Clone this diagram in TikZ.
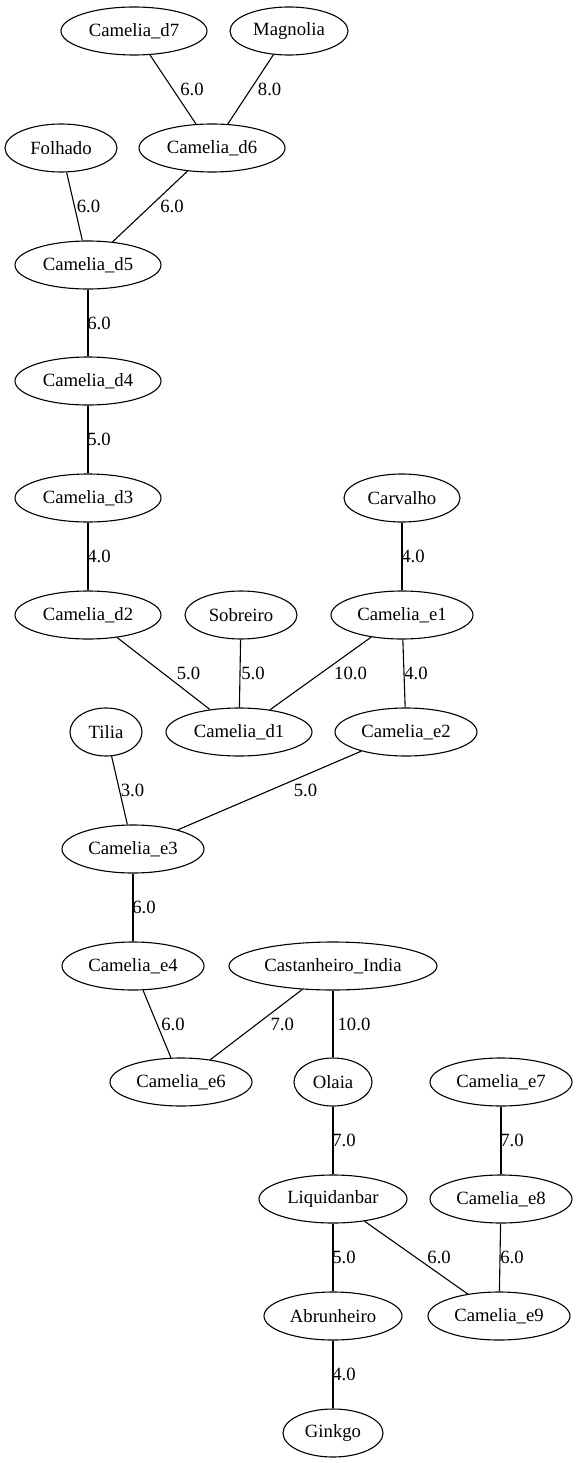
\documentclass[tikz,border=0pt]{standalone}
\usepackage{fontspec}
\setmainfont{Liberation Serif}
\usetikzlibrary{shapes.geometric}
\tikzset{
  tree/.style={draw,ellipse,line width=1.1pt,minimum height=48pt,inner sep=0pt,
    font=\fontsize{18.7}{22}\selectfont},
  lbl/.style={inner sep=0pt,font=\fontsize{18.7}{22}\selectfont},
  edge/.style={line width=1.1pt}
}
\begin{document}
\begin{tikzpicture}[x=1pt,y=-1pt]
    \useasboundingbox (0,0) rectangle (579,1463);
    % rank 0 and 1
    \node[tree,minimum width=146pt] (cd7) at (134,31) {Camelia\_d7};
    \node[tree,minimum width=118pt] (mag) at (289,31) {Magnolia};
    \node[tree,minimum width=112pt] (fol) at (61,148) {Folhado};
    \node[tree,minimum width=146pt] (cd6) at (212,148) {Camelia\_d6};
    % left column
    \node[tree,minimum width=146pt] (cd5) at (88,265) {Camelia\_d5};
    \node[tree,minimum width=146pt] (cd4) at (88,381) {Camelia\_d4};
    \node[tree,minimum width=146pt] (cd3) at (88,498) {Camelia\_d3};
    \node[tree,minimum width=116pt] (car) at (402,498) {Carvalho};
    \node[tree,minimum width=146pt] (cd2) at (88,615) {Camelia\_d2};
    \node[tree,minimum width=112pt] (sob) at (241,615) {Sobreiro};
    \node[tree,minimum width=142pt] (ce1) at (402,615) {Camelia\_e1};
    \node[tree,minimum width=72pt] (til) at (106,732) {Tilia};
    \node[tree,minimum width=146pt] (cd1) at (239,732) {Camelia\_d1};
    \node[tree,minimum width=142pt] (ce2) at (406,732) {Camelia\_e2};
    \node[tree,minimum width=142pt] (ce3) at (133,849) {Camelia\_e3};
    \node[tree,minimum width=142pt] (ce4) at (133,966) {Camelia\_e4};
    \node[tree,minimum width=208pt] (cas) at (333,966) {Castanheiro\_India};
    % lower part
    \node[tree,minimum width=142pt] (ce6) at (181,1082) {Camelia\_e6};
    \node[tree,minimum width=78pt] (ola) at (333,1082) {Olaia};
    \node[tree,minimum width=142pt] (ce7) at (501,1082) {Camelia\_e7};
    \node[tree,minimum width=148pt] (liq) at (333,1199) {Liquidanbar};
    \node[tree,minimum width=142pt] (ce8) at (501,1199) {Camelia\_e8};
    \node[tree,minimum width=138pt] (abr) at (333,1316) {Abrunheiro};
    \node[tree,minimum width=142pt] (ce9) at (499,1316) {Camelia\_e9};
    \node[tree,minimum width=100pt] (gin) at (333,1433) {Ginkgo};
    % edges
    \draw[edge] (cd7)--(cd6) node[lbl,pos=.5,xshift=19]{6.0};
    \draw[edge] (mag)--(cd6) node[lbl,pos=.5,xshift=19]{8.0};
    \draw[edge] (fol)--(cd5) node[lbl,pos=.5,xshift=14]{6.0};
    \draw[edge] (cd6)--(cd5) node[lbl,pos=.5,xshift=22]{6.0};
    \draw[edge] (cd5)--(cd4) node[lbl,pos=.5,xshift=11]{6.0};
    \draw[edge] (cd4)--(cd3) node[lbl,pos=.5,xshift=11]{5.0};
    \draw[edge] (cd3)--(cd2) node[lbl,pos=.5,xshift=11]{4.0};
    \draw[edge] (car)--(ce1) node[lbl,pos=.5,xshift=11]{4.0};
    \draw[edge] (cd2)--(cd1) node[lbl,pos=.5,xshift=25]{5.0};
    \draw[edge] (sob)--(cd1) node[lbl,pos=.5,xshift=13]{5.0};
    \draw[edge] (ce1)--(cd1) node[lbl,pos=.5,xshift=30]{10.0};
    \draw[edge] (ce1)--(ce2) node[lbl,pos=.5,xshift=12]{4.0};
    \draw[edge] (til)--(ce3) node[lbl,pos=.5,xshift=13]{3.0};
    \draw[edge] (ce2)--(ce3) node[lbl,pos=.5,xshift=36]{5.0};
    \draw[edge] (ce3)--(ce4) node[lbl,pos=.5,xshift=11]{6.0};
    \draw[edge] (ce4)--(ce6) node[lbl,pos=.5,xshift=16]{6.0};
    \draw[edge] (cas)--(ce6) node[lbl,pos=.5,xshift=26]{7.0};
    \draw[edge] (cas)--(ola) node[lbl,pos=.5,xshift=21]{10.0};
    \draw[edge] (ce7)--(ce8) node[lbl,pos=.5,xshift=11]{7.0};
    \draw[edge] (ola)--(liq) node[lbl,pos=.5,xshift=11]{7.0};
    \draw[edge] (liq)--(abr) node[lbl,pos=.5,xshift=11]{5.0};
    \draw[edge] (liq)--(ce9) node[lbl,pos=.5,xshift=23]{6.0};
    \draw[edge] (ce8)--(ce9) node[lbl,pos=.5,xshift=12]{6.0};
    \draw[edge] (abr)--(gin) node[lbl,pos=.5,xshift=11]{4.0};
\end{tikzpicture}
\end{document}
